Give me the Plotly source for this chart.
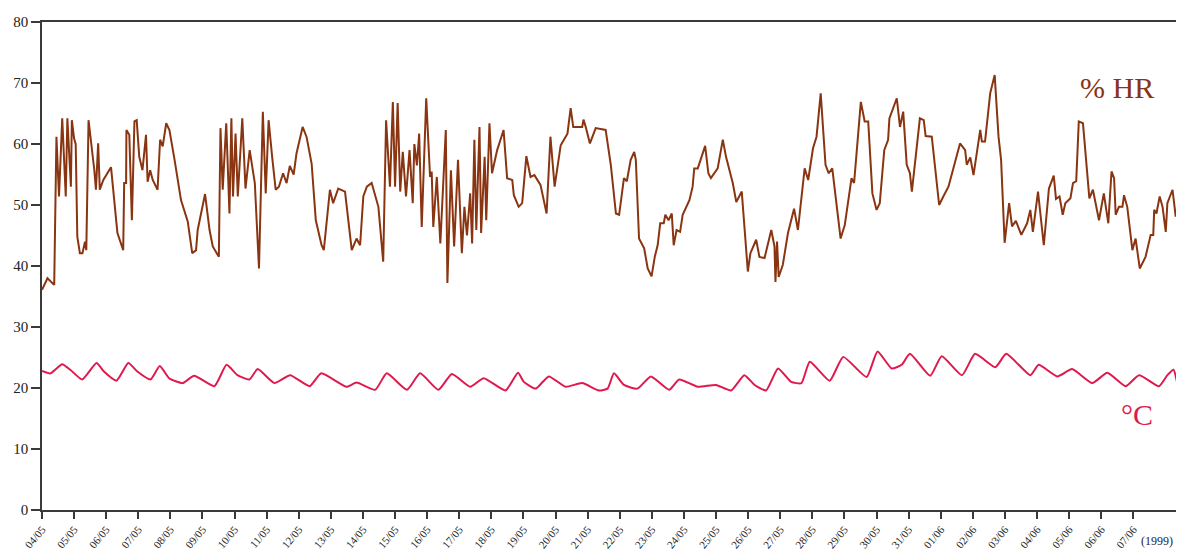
import pandas as pd
import plotly.graph_objects as go

# Relative humidity (% HR): time in days since 04/05/1999, and value
hr_days = [0.00, 0.17, 0.38, 0.45, 0.53, 0.63, 0.74, 0.79, 0.90, 0.93, 1.00, 1.05, 1.10, 1.18, 1.26, 1.34, 1.38,
           1.45, 1.63, 1.68, 1.75, 1.80, 1.91, 2.15, 2.35, 2.53, 2.56, 2.62, 2.63, 2.72, 2.80, 2.88, 2.95, 3.03,
           3.13, 3.24, 3.29, 3.37, 3.45, 3.60, 3.68, 3.76, 3.87, 3.97, 4.13, 4.33, 4.54, 4.68, 4.80, 4.85, 5.08,
           5.22, 5.32, 5.51, 5.56, 5.63, 5.74, 5.84, 5.90, 5.95, 6.03, 6.10, 6.24, 6.34, 6.47, 6.63, 6.76, 6.88,
           6.97, 7.06, 7.17, 7.28, 7.38, 7.51, 7.62, 7.72, 7.84, 7.93, 8.12, 8.24, 8.40, 8.53, 8.71, 8.78, 8.97,
           9.07, 9.23, 9.44, 9.65, 9.80, 9.91, 10.01, 10.12, 10.27, 10.48, 10.63, 10.72, 10.84, 10.93, 11.00,
           11.08, 11.16, 11.24, 11.34, 11.45, 11.55, 11.60, 11.68, 11.75, 11.83, 11.97, 12.09, 12.14, 12.19,
           12.30, 12.41, 12.58, 12.63, 12.74, 12.84, 12.96, 13.08, 13.16, 13.24, 13.34, 13.40, 13.47, 13.53,
           13.63, 13.68, 13.79, 13.84, 13.94, 14.02, 14.18, 14.38, 14.49, 14.65, 14.70, 14.85, 14.96, 15.09,
           15.22, 15.34, 15.53, 15.72, 15.84, 15.97, 16.16, 16.37, 16.47, 16.55, 16.83, 16.87, 16.94, 17.07,
           17.25, 17.56, 17.72, 17.88, 17.98, 18.13, 18.22, 18.34, 18.45, 18.50, 18.60, 18.76, 18.87, 18.99,
           19.09, 19.18, 19.26, 19.37, 19.42, 19.52, 19.62, 19.68, 19.77, 19.88, 19.96, 20.17, 20.27, 20.32,
           20.43, 20.66, 20.76, 20.84, 21.05, 21.21, 21.31, 21.47, 21.52, 21.63, 21.80, 21.99, 22.07, 22.25,
           22.35, 22.51, 22.72, 22.82, 22.85, 22.90, 22.95, 23.08, 23.24, 23.43, 23.55, 23.76, 23.87, 24.02,
           24.13, 24.26, 24.41, 24.51, 24.62, 24.88, 25.01, 25.22, 25.30, 25.51, 25.63, 25.74, 25.87, 26.00,
           26.10, 26.24, 26.36, 26.40, 26.63, 26.73, 26.83, 26.94, 27.04, 27.10, 27.35, 27.47, 27.53, 27.72,
           27.95, 28.08, 28.24, 28.60, 28.76, 28.81, 28.92, 29.02, 29.23, 29.28, 29.38, 29.54, 29.68, 29.80,
           29.88, 29.99, 30.13, 30.22, 30.34, 30.51, 30.69, 30.79, 30.87, 31.03, 31.21, 31.37, 31.52, 31.59,
           31.70, 31.80, 31.88, 32.04, 32.12, 32.22, 32.30, 32.43, 32.63, 32.74, 32.93, 33.08, 33.22, 33.32,
           33.40, 33.45, 33.55, 33.66, 33.71, 33.81, 33.97, 34.07, 34.20, 34.38, 34.54, 34.62, 34.65, 34.72,
           34.82, 34.91, 35.01, 35.06, 35.22, 35.32, 35.36]
hr_values = [36.1, 38.0, 36.9, 61.2, 51.4, 64.2, 51.4, 64.2, 53.0, 63.9, 60.9, 60.0, 44.8, 42.1, 42.1, 44.0, 42.6,
             63.9, 55.7, 52.5, 60.1, 52.5, 54.1, 56.2, 45.4, 42.6, 53.6, 53.6, 62.3, 61.5, 47.5, 63.7, 63.9, 57.9,
             55.7, 61.5, 53.8, 55.7, 54.1, 52.5, 60.7, 59.6, 63.4, 62.3, 57.4, 50.8, 47.3, 42.1, 42.6, 45.9, 51.8,
             45.9, 43.2, 41.5, 62.6, 52.5, 63.4, 48.6, 64.2, 51.4, 61.7, 51.4, 64.2, 52.7, 59.0, 53.6, 39.6, 65.3,
             51.9, 63.9, 57.9, 52.5, 53.0, 55.2, 53.6, 56.4, 55.0, 58.5, 62.8, 61.2, 56.8, 47.5, 43.4, 42.6, 52.5,
             50.3, 52.7, 52.2, 42.6, 44.5, 43.4, 51.4, 53.0, 53.6, 49.7, 40.7, 63.9, 53.0, 66.9, 53.0,
             66.7, 52.2, 58.7, 51.4, 59.0, 50.3, 60.0, 56.5, 61.7, 46.4, 67.5, 54.6, 55.5, 46.4,
             54.6, 43.7, 62.3, 37.2, 55.7, 43.2, 57.4, 42.1, 49.7, 45.0, 51.9, 43.7, 60.7, 45.9,
             62.8, 45.4, 57.9, 47.5, 63.4, 55.2, 59.0, 62.3, 54.4, 54.1, 51.6, 49.7, 50.3, 58.0,
             54.6, 54.9, 53.3, 48.6, 61.2, 53.0, 59.8, 61.7, 65.9, 62.8, 62.8, 64.0, 62.8, 60.1,
             62.6, 62.3, 56.6, 48.6, 48.4, 54.4, 53.9, 57.4, 58.7, 57.4, 44.5, 42.9, 39.6, 38.3,
             41.5, 43.4, 47.0, 47.0, 48.4, 47.5, 48.6, 43.4, 45.9, 45.6, 48.4, 50.8, 53.0, 56.0,
             56.0, 59.7, 55.2, 54.4, 56.0, 60.7, 57.9, 54.6, 53.6, 50.5, 52.2, 39.1, 42.1, 44.3,
             41.5, 41.3, 45.9, 43.2, 37.4, 44.0, 38.2, 40.2, 45.4, 49.4, 45.9, 56.0, 54.1, 59.3,
             61.2, 68.3, 56.6, 55.2, 56.0, 44.5, 46.7, 54.4, 53.6, 66.9, 63.7, 63.7, 51.9, 49.2,
             50.3, 59.0, 60.7, 64.2, 67.5, 62.8, 65.3, 56.6, 55.2, 52.2, 64.2, 63.9, 61.3, 61.2,
             50.0, 51.4, 53.0, 60.1, 59.0, 56.6, 57.8, 54.9, 62.3, 60.4, 60.4, 68.3, 71.3, 61.2,
             57.4, 43.8, 50.3, 46.5, 47.4, 45.1, 47.0, 49.2, 45.6, 52.2, 43.4, 52.7, 54.8, 51.0,
             51.4, 48.4, 50.3, 51.1, 53.6, 53.9, 63.7, 63.4, 51.1, 52.5, 47.5, 51.9, 47.0, 55.5,
             54.4, 48.4, 49.7, 49.7, 51.6, 49.7, 42.6, 44.5, 39.6, 41.5, 45.1, 45.1, 49.2, 48.6,
             51.4, 49.7, 45.6, 50.3, 52.5, 48.1, 49.2]

# Temperature (°C): time in days since 04/05/1999, and value
t_days = [0.00, 0.26, 0.63, 0.88, 1.25, 1.70, 1.93, 2.32, 2.69, 2.97, 3.38, 3.67, 3.96, 4.38, 4.74, 5.37, 5.75,
          6.09, 6.46, 6.72, 7.24, 7.73, 8.34, 8.70, 9.49, 9.80, 10.38, 10.74, 11.37, 11.78, 12.35, 12.77, 13.34,
          13.76, 14.44, 14.83, 15.01, 15.38, 15.79, 16.31, 16.83, 17.35, 17.62, 17.82, 18.13, 18.55, 18.97, 19.54,
          19.85, 20.43, 21.00, 21.47, 21.88, 22.20, 22.56, 22.93, 23.34, 23.66, 23.92, 24.54, 24.96, 25.69, 26.03,
          26.47, 26.78, 27.04, 27.67, 28.03, 28.66, 29.07, 29.70, 30.04, 30.79, 31.05, 31.63, 32.09, 32.72, 33.19,
          33.76, 34.18, 34.80, 35.06, 35.25, 35.36]
t_values = [22.8, 22.4, 23.9, 23.0, 21.4, 24.1, 22.7, 21.2, 24.1, 22.7, 21.4, 23.6, 21.6, 20.8, 22.0, 20.3, 23.8,
            22.1, 21.4, 23.1, 20.8, 22.1, 20.3, 22.4, 20.2, 20.9, 19.7, 22.4, 19.7, 22.4, 19.7, 22.3, 20.2,
            21.6, 19.6, 22.5, 21.0, 19.9, 21.9, 20.2, 20.8, 19.6, 19.9, 22.4, 20.5, 19.9, 21.9, 19.7,
            21.4, 20.2, 20.5, 19.6, 22.1, 20.5, 19.6, 23.2, 21.0, 20.8, 24.3, 21.2, 25.1, 21.8, 26.0,
            23.2, 23.8, 25.6, 22.0, 25.2, 22.1, 25.6, 23.4, 25.6, 22.1, 23.8, 21.9, 23.1, 20.8, 22.5,
            20.3, 22.1, 20.3, 22.1, 23.0, 21.0]

tick_days = list(range(0, 35))
x_end_days = 35.36
y_ticks = [0, 10, 20, 30, 40, 50, 60, 70, 80]

base = pd.Timestamp("1999-05-04")
to_dt = lambda d: base + pd.to_timedelta(d, unit="D")

HR_COLOR = "#8a3512"
T_COLOR = "#e0194d"
AX = "#3a3a3a"
FONT = "Liberation Serif"

fig = go.Figure()
fig.add_trace(go.Scatter(x=[to_dt(d) for d in hr_days], y=hr_values, mode="lines",
                         line=dict(color=HR_COLOR, width=2), name="% HR"))
fig.add_trace(go.Scatter(x=[to_dt(d) for d in t_days], y=t_values, mode="lines",
                         line=dict(color=T_COLOR, width=2, shape="spline", smoothing=0.5), name="°C"))

tickvals = [to_dt(d) for d in tick_days]
# page body has an 8px margin, so the figure is sized to fit the 1184x552 window
fig.update_layout(
    width=1176, height=544,
    margin=dict(l=34, r=7, t=14, b=42, autoexpand=False),
    paper_bgcolor="white", plot_bgcolor="white",
    showlegend=False,
    font=dict(family=FONT, color="#222"),
    xaxis=dict(type="date", range=[to_dt(0), to_dt(x_end_days)], automargin=False,
               tickvals=tickvals, ticktext=[t.strftime("%d/%m") for t in tickvals],
               tickangle=-50, tickfont=dict(size=11, family=FONT, color="#222"),
               ticks="outside", ticklen=7, tickcolor=AX, tickwidth=1.5,
               showline=True, linecolor=AX, linewidth=1.5, mirror=True,
               showgrid=False, zeroline=False),
    yaxis=dict(range=[0, 80], tickvals=y_ticks, automargin=False,
               tickfont=dict(size=15, family=FONT, color="#222"),
               ticks="outside", ticklen=9, tickcolor=AX, tickwidth=1.5,
               showline=True, linecolor=AX, linewidth=1.5, mirror=True,
               showgrid=False, zeroline=False),
)

fig.add_annotation(x=0.947, y=69.3, xref="paper", yref="y", text="% HR", showarrow=False,
                   xanchor="center", yanchor="middle",
                   font=dict(family=FONT, size=30, color=HR_COLOR))
fig.add_annotation(x=0.965, y=15.6, xref="paper", yref="y", text="°C", showarrow=False,
                   xanchor="center", yanchor="middle",
                   font=dict(family=FONT, size=30, color=T_COLOR))
fig.add_annotation(x=0.998, y=-0.045, xref="paper", yref="paper", text="(1999)", showarrow=False,
                   xanchor="right", yanchor="top",
                   font=dict(family=FONT, size=12, color="#222222"))

fig.write_html("out.html")
